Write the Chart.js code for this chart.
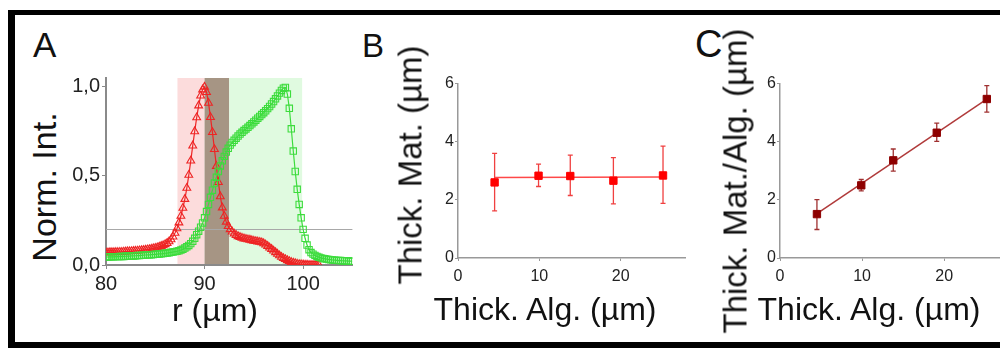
<!DOCTYPE html>
<html lang="en">
<head>
<meta charset="UTF-8">
<title>Intensity profiles and thickness</title>
<script src="https://cdn.jsdelivr.net/npm/chart.js"></script>
<style>
  html, body { margin: 0; padding: 0; background: #fff; overflow: hidden; }
  body { width: 1000px; height: 348px; position: relative; font-family: "Liberation Sans", Arial, sans-serif; color: #111; }
  #frame { position: absolute; left: 8px; top: 10px; width: 1100px; height: 327px; border: solid #000; border-width: 5px 0 6px 7px; }
  canvas { position: absolute; }
  .lbl { position: absolute; white-space: nowrap; line-height: 1; }
  .rot { transform: translate(-50%, -50%) rotate(-90deg); }
  .hx { transform: translateX(-50%); }
</style>
</head>
<body>
<div id="frame"></div>

<canvas id="chartA" width="292" height="236" style="left:66px; top:64px;"></canvas>
<canvas id="chartB" width="274" height="220" style="left:418px; top:73px;"></canvas>
<canvas id="chartC" width="276" height="220" style="left:740px; top:73px;"></canvas>

<!-- panel letters and axis titles -->
<div class="lbl" style="left:33px; top:27px; font-size:35px;">A</div>
<div class="lbl" style="left:362px; top:29px; font-size:33px;">B</div>
<div class="lbl" style="left:695px; top:25px; font-size:38px;">C</div>

<div class="lbl rot" style="left:44px; top:187px; font-size:34px;">Norm. Int.</div>
<div class="lbl hx" style="left:215px; top:294px; font-size:32px;">r (µm)</div>

<div class="lbl rot" style="left:410px; top:165px; font-size:33px;">Thick. Mat. (µm)</div>
<div class="lbl hx" style="left:545px; top:293px; font-size:32px;">Thick. Alg. (µm)</div>

<div class="lbl rot" style="left:735px; top:181px; font-size:33px;">Thick. Mat./Alg. (µm)</div>
<div class="lbl hx" style="left:869px; top:293px; font-size:32px;">Thick. Alg. (µm)</div>

<script>
// ---- panel A: radial intensity profiles ----
const rValues = [
  80, 80.2, 80.4, 80.6, 80.8, 81, 81.2, 81.4, 81.6, 81.8, 82, 82.2, 82.4, 82.6, 82.8, 83, 83.2, 83.4, 83.6, 83.8,
  84, 84.2, 84.4, 84.6, 84.8, 85, 85.2, 85.4, 85.6, 85.8, 86, 86.2, 86.4, 86.6, 86.8, 87, 87.2, 87.4, 87.6, 87.8,
  88, 88.2, 88.4, 88.6, 88.8, 89, 89.2, 89.4, 89.6, 89.8, 90, 90.2, 90.4, 90.6, 90.8, 91, 91.2, 91.4, 91.6, 91.8,
  92, 92.2, 92.4, 92.6, 92.8, 93, 93.2, 93.4, 93.6, 93.8, 94, 94.2, 94.4, 94.6, 94.8, 95, 95.2, 95.4, 95.6, 95.8,
  96, 96.2, 96.4, 96.6, 96.8, 97, 97.2, 97.4, 97.6, 97.8, 98, 98.2, 98.4, 98.6, 98.8, 99, 99.2, 99.4, 99.6, 99.8,
  100, 100.2, 100.4, 100.6, 100.8, 101, 101.2, 101.4, 101.6, 101.8, 102, 102.2, 102.4, 102.6, 102.8, 103, 103.2, 103.4, 103.6, 103.8,
  104, 104.2, 104.4, 104.6, 104.8, 105
];

// red channel (triangles), stops at 101.6
const redInt = [
  0.070, 0.070, 0.071, 0.071, 0.071, 0.072, 0.072, 0.073, 0.073, 0.074, 0.075, 0.076, 0.076, 0.077, 0.078, 0.079, 0.080, 0.081, 0.082, 0.083,
  0.085, 0.087, 0.088, 0.090, 0.093, 0.095, 0.098, 0.102, 0.106, 0.110, 0.116, 0.123, 0.132, 0.143, 0.159, 0.180, 0.205, 0.238, 0.275, 0.320,
  0.370, 0.432, 0.505, 0.585, 0.670, 0.750, 0.828, 0.895, 0.950, 0.985, 1.000, 0.970, 0.910, 0.830, 0.745, 0.650, 0.555, 0.465, 0.385, 0.322,
  0.275, 0.242, 0.218, 0.200, 0.187, 0.176, 0.168, 0.161, 0.156, 0.152, 0.148, 0.146, 0.143, 0.141, 0.138, 0.135, 0.133, 0.131, 0.129, 0.126,
  0.121, 0.114, 0.106, 0.097, 0.089, 0.080, 0.071, 0.062, 0.053, 0.045, 0.038, 0.032, 0.026, 0.021, 0.016, 0.012, 0.009, 0.006, 0.004, 0.003,
  0.002, 0.001, 0.001, 0.000, 0.000, 0.000, 0.000, 0.000, 0.000
];

// green channel (squares)
const greenInt = [
  0.045, 0.045, 0.046, 0.046, 0.046, 0.047, 0.047, 0.048, 0.048, 0.048, 0.049, 0.050, 0.050, 0.051, 0.051, 0.052, 0.053, 0.053, 0.054, 0.055,
  0.056, 0.057, 0.057, 0.058, 0.059, 0.060, 0.061, 0.062, 0.063, 0.064, 0.066, 0.067, 0.069, 0.071, 0.073, 0.075, 0.077, 0.080, 0.084, 0.089,
  0.095, 0.102, 0.110, 0.120, 0.133, 0.150, 0.170, 0.190, 0.212, 0.236, 0.265, 0.300, 0.340, 0.380, 0.420, 0.460, 0.493, 0.525, 0.556, 0.585,
  0.610, 0.634, 0.655, 0.673, 0.688, 0.700, 0.712, 0.724, 0.735, 0.745, 0.755, 0.764, 0.773, 0.783, 0.793, 0.803, 0.813, 0.824, 0.834, 0.845,
  0.855, 0.866, 0.878, 0.890, 0.904, 0.918, 0.933, 0.949, 0.965, 0.980, 0.993, 0.997, 0.960, 0.880, 0.765, 0.640, 0.525, 0.425, 0.340, 0.265,
  0.200, 0.150, 0.112, 0.086, 0.070, 0.061, 0.054, 0.048, 0.044, 0.040, 0.037, 0.035, 0.033, 0.031, 0.030, 0.028, 0.027, 0.026, 0.025, 0.025,
  0.024, 0.023, 0.023, 0.022, 0.022, 0.021
];

const bandFrom = [87.25, 90, 92.5];
const bandTo = [90, 92.5, 99.9];
const thresholdLevel = 0.2;

// ---- panels B and C: thickness measurements ----
const thickAlg = [4.5, 9.9, 13.8, 19.1, 25.2];

const matB = [2.60, 2.83, 2.82, 2.66, 2.84];
const matBLow = [1.62, 2.46, 2.15, 1.86, 1.88];
const matBHigh = [3.60, 3.23, 3.54, 3.45, 3.85];
const fitB = [2.77, 2.79];

const matAlgC = [1.51, 2.50, 3.36, 4.31, 5.47];
const matAlgCLow = [0.98, 2.31, 2.99, 4.01, 5.02];
const matAlgCHigh = [2.01, 2.70, 3.75, 4.64, 5.93];
const fitC = [1.53, 5.47];

Chart.defaults.font.family = '"Liberation Sans", Arial, sans-serif';
Chart.defaults.color = '#222';

function pairs(xs, ys) {
  return ys.map((v, i) => ({ x: xs[i], y: v }));
}

const bandPlugin = {
  id: 'bands',
  beforeDatasetsDraw(chart, args, opts) {
    const { ctx, chartArea, scales: { x, y } } = chart;
    const y0 = y.getPixelForValue(0) - 1;
    ctx.save();
    opts.from.forEach((f, i) => {
      const x0 = x.getPixelForValue(f);
      const x1 = x.getPixelForValue(opts.to[i]);
      ctx.fillStyle = opts.colors[i];
      ctx.fillRect(x0, chartArea.top, x1 - x0, y0 - chartArea.top);
    });
    const yl = Math.round(y.getPixelForValue(opts.level)) + 0.5;
    ctx.strokeStyle = '#a8a8a8';
    ctx.lineWidth = 1;
    ctx.beginPath();
    ctx.moveTo(chartArea.left, yl);
    ctx.lineTo(chartArea.right, yl);
    ctx.stroke();
    ctx.restore();
  }
};

const errorBarPlugin = {
  id: 'errorBars',
  beforeDatasetsDraw(chart, args, opts) {
    const meta = chart.getDatasetMeta(opts.dataset);
    const y = chart.scales.y;
    const ctx = chart.ctx;
    ctx.save();
    ctx.strokeStyle = opts.color;
    ctx.lineWidth = 1.3;
    meta.data.forEach((pt, i) => {
      const top = y.getPixelForValue(opts.high[i]);
      const bot = y.getPixelForValue(opts.low[i]);
      ctx.beginPath();
      ctx.moveTo(pt.x, top); ctx.lineTo(pt.x, bot);
      ctx.moveTo(pt.x - 2.5, top); ctx.lineTo(pt.x + 2.5, top);
      ctx.moveTo(pt.x - 2.5, bot); ctx.lineTo(pt.x + 2.5, bot);
      ctx.stroke();
    });
    ctx.restore();
  }
};

function axis(opts) {
  return Object.assign({
    type: 'linear',
    border: { display: true, color: '#8a8a8a', width: 2 },
    grid: { drawOnChartArea: false, drawTicks: true, tickLength: 4, color: '#8a8a8a' }
  }, opts);
}

new Chart(document.getElementById('chartA'), {
  type: 'scatter',
  data: {
    datasets: [
      {
        data: pairs(rValues, greenInt),
        showLine: true,
        borderColor: '#3cdc3c',
        borderWidth: 1.2,
        pointStyle: 'rect',
        pointRadius: 4.5,
        pointBorderWidth: 1.1,
        pointBackgroundColor: 'rgba(0,0,0,0)',
        pointBorderColor: '#3cdc3c'
      },
      {
        data: pairs(rValues, redInt),
        showLine: true,
        borderColor: '#ee2424',
        borderWidth: 1.2,
        pointStyle: 'triangle',
        pointRadius: 4.5,
        pointBorderWidth: 1.1,
        pointBackgroundColor: 'rgba(0,0,0,0)',
        pointBorderColor: '#ee2424'
      }
    ]
  },
  options: {
    responsive: false,
    animation: false,
    layout: { padding: { top: 10, left: 0, right: 0, bottom: 0 } },
    plugins: {
      legend: { display: false },
      tooltip: { enabled: false },
      bands: {
        from: bandFrom,
        to: bandTo,
        colors: ['#fcdcdc', '#a69584', '#e0fae0'],
        level: thresholdLevel
      }
    },
    scales: {
      x: axis({
        min: 80, max: 105,
        afterFit: s => { s.height = 35; },
        ticks: { stepSize: 10, includeBounds: false, padding: 3, font: { size: 20 } }
      }),
      y: axis({
        min: 0, max: 1.05,
        afterFit: s => { s.width = 40; },
        ticks: {
          stepSize: 0.5, includeBounds: false, padding: 2, font: { size: 20 },
          callback: v => v.toFixed(1).replace('.', ',')
        }
      })
    }
  },
  plugins: [bandPlugin]
});

function thicknessChart(id, values, low, high, fit, lineColor, pointColor, barColor) {
  return new Chart(document.getElementById(id), {
    type: 'scatter',
    data: {
      datasets: [
        {
          data: pairs(thickAlg, values),
          showLine: false,
          pointStyle: 'rect',
          pointRadius: 5.2,
          pointBackgroundColor: pointColor,
          pointBorderColor: pointColor
        },
        {
          data: pairs([thickAlg[0], thickAlg[thickAlg.length - 1]], fit),
          showLine: true,
          borderColor: lineColor,
          borderWidth: 1.5,
          pointRadius: 0
        }
      ]
    },
    options: {
      responsive: false,
      animation: false,
      layout: { padding: { top: 10, left: 0, right: 0, bottom: 0 } },
      plugins: {
        legend: { display: false },
        tooltip: { enabled: false },
        errorBars: { dataset: 0, low: low, high: high, color: barColor }
      },
      scales: {
        x: axis({
          min: 0, max: 28,
          border: { display: true, color: '#999', width: 1.5 },
          grid: { drawOnChartArea: false, drawTicks: true, tickLength: 3, color: '#999' },
          afterFit: s => { s.height = 35; },
          ticks: { stepSize: 10, includeBounds: false, padding: 6, font: { size: 16 } }
        }),
        y: axis({
          min: 0, max: 6,
          border: { display: true, color: '#999', width: 1.5 },
          grid: { drawOnChartArea: false, drawTicks: true, tickLength: 3, color: '#999' },
          afterFit: s => { s.width = 40; },
          ticks: { stepSize: 2, includeBounds: false, padding: 1, font: { size: 16 } }
        })
      }
    },
    plugins: [errorBarPlugin]
  });
}

thicknessChart('chartB', matB, matBLow, matBHigh, fitB, '#ff4848', '#ff0000', '#f04040');
thicknessChart('chartC', matAlgC, matAlgCLow, matAlgCHigh, fitC, '#b03a3a', '#8e0000', '#a03030');
</script>
</body>
</html>
